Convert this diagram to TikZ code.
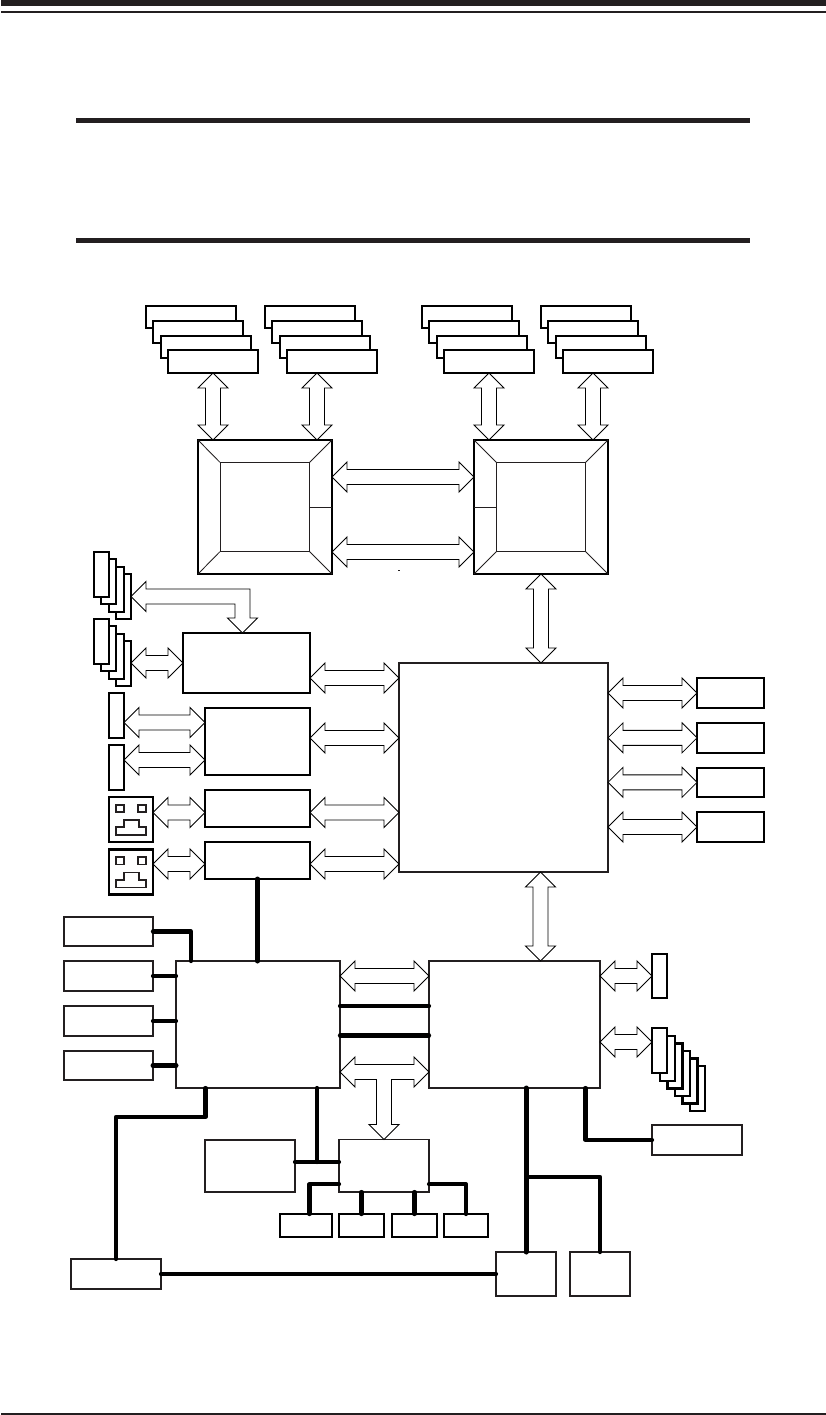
\documentclass[tikz,border=0pt]{standalone}
\usetikzlibrary{calc}
\definecolor{ink}{HTML}{231F20}
\tikzset{
  block/.style={draw=ink, fill=white, line width=1.6pt, inner sep=0pt, outer sep=0pt},
  heavyblock/.style={block, draw=black, line width=2.1pt},
  busline/.style={draw=black, fill=white, line width=0.85pt, line join=miter},
  wire/.style={draw=black, line width=4.2pt, line cap=round, line join=round},
  fineline/.style={draw=ink, line width=0.85pt},
  portline/.style={draw=ink, line width=1.8pt}
}
\newcommand{\blockat}[6][block]{\node[#1, minimum width={((#5)-(#3))*1pt}, minimum height={((#6)-(#4))*1pt}] (#2) at ({((#3)+(#5))/2},{((#4)+(#6))/2}) {};}
\newcommand{\busfill}{\draw[busline] (pa) -- ($(pa)!21.21pt!45:(pb)$) -- ($(pa)!16.77pt!26.57:(pb)$) -- ($(pb)!16.77pt!-26.57:(pa)$) -- ($(pb)!21.21pt!-45:(pa)$) -- (pb) -- ($(pb)!21.21pt!45:(pa)$) -- ($(pb)!16.77pt!26.57:(pa)$) -- ($(pa)!16.77pt!-26.57:(pb)$) -- ($(pa)!21.21pt!-45:(pb)$) -- cycle;}
\newcommand{\hbus}[2]{\coordinate (pa) at (#1); \coordinate (pb) at (pa -| #2); \busfill}
\newcommand{\vbus}[2]{\coordinate (pa) at (#1); \coordinate (pb) at (pa |- #2); \busfill}
\newcommand{\memstack}[2]{\foreach \i/\dx/\ya/\yb in {1/0/306/328,2/7/321/343,3/15/336/358,4/22/350/373} {\blockat[heavyblock]{#1\i}{#2+\dx}{\ya}{#2+\dx+90}{\yb}}}
\newcommand{\slotstack}[4]{\foreach \i/\d in {#4} {\blockat[heavyblock]{#1\i}{#2+\d}{#3+\d}{#2+\d+15}{#3+\d+45}}}
\begin{document}
\begin{tikzpicture}[x=1pt,y=-1pt]
\useasboundingbox (0,0) rectangle (826,1415);
\fill[ink] (1,0) rectangle (826,6);
\fill[ink] (1,10.7) rectangle (826,13);
\fill[ink] (76,117.7) rectangle (750,123);
\fill[ink] (76,237.7) rectangle (750,243);
\fill[ink] (1,1413) rectangle (826,1415);

\memstack{memA}{146}
\memstack{memB}{265}
\memstack{memC}{422}
\memstack{memD}{541}

\blockat[heavyblock]{cpuA}{198}{440}{332}{574}
\blockat[fineline]{cpuAin}{220.3}{462.7}{309.3}{551.3}
\blockat[heavyblock]{cpuB}{474}{440}{608}{574}
\blockat[fineline]{cpuBin}{496.7}{462.7}{585.3}{551.3}
\foreach \c in {cpuA,cpuB} {
  \foreach \a in {north west,north east,south west,south east}
    \draw[fineline] (\c.\a) -- (\c in.\a);
}
\draw[fineline] (cpuAin.east) -- (cpuA.east);
\draw[fineline] (cpuBin.west) -- (cpuB.west);

\blockat{mch}{399}{663}{608}{872}
\blockat[heavyblock]{memE}{697}{678}{764}{708}
\blockat[heavyblock]{memF}{697}{723}{764}{752.7}
\blockat[heavyblock]{memG}{697}{767.7}{764}{797}
\blockat[heavyblock]{memH}{697}{812}{764}{842}

\slotstack{slotA}{94}{552}{4/22,3/15,2/7,1/0}
\slotstack{slotB}{94}{619}{4/22,3/15,2/7,1/0}
\blockat[heavyblock]{slimA}{109}{693}{124}{738}
\blockat[heavyblock]{slimB}{109}{745}{124}{790}
\blockat[heavyblock]{portA}{109}{797}{153}{842}
\blockat[heavyblock]{portB}{109}{849.5}{153}{894.5}
\foreach \p in {portA,portB} {
  \begin{scope}[shift={(\p.north west)}]
    \draw[portline] (6.7,7.7) rectangle (15.3,15);
    \draw[portline] (29.3,7.7) rectangle (37,15);
    \draw[portline] (6.7,38) -- (6.7,30.3) -- (14.7,30.3) -- (14.7,23) -- (30,23) -- (30,30.3) -- (37,30.3) -- (37,38) -- cycle;
  \end{scope}
}

\blockat[heavyblock]{ioA}{183}{633}{310}{693}
\blockat[heavyblock]{ioB}{205}{708}{310}{775}
\blockat[heavyblock]{ioC}{205}{790}{310}{827}
\blockat[heavyblock]{ioD}{205}{842}{310}{879}

\blockat{ich}{176}{961}{340}{1088}
\blockat{sb}{429}{961}{600}{1088}
\blockat{lanA}{64}{917}{153}{946}
\blockat{lanB}{64}{961}{153}{991}
\blockat{lanC}{64}{1006}{153}{1036}
\blockat{lanD}{64}{1051}{153}{1080}
\blockat{boxF}{205}{1140}{295}{1192}
\blockat{boxE}{339}{1139.5}{429}{1192}
\blockat[heavyblock]{smA}{280}{1214}{332}{1237}
\blockat[heavyblock]{smB}{339}{1214}{384}{1237}
\blockat[heavyblock]{smC}{392}{1214}{437}{1237}
\blockat[heavyblock]{smD}{444}{1214}{488}{1237}
\blockat{boxG}{71}{1259}{161}{1289}
\blockat{bayA}{496}{1252}{556}{1296}
\blockat{bayB}{570}{1252}{630}{1296}
\blockat[heavyblock]{slimC}{652}{954}{667}{998}
\slotstack{slotC}{652}{1028}{6/38,5/30.5,4/23,3/15.5,2/8,1/0}
\blockat{boxH}{652}{1125}{742}{1155}

\vbus{memA4.south}{cpuA.north}
\vbus{[xshift=-15pt]memB4.south}{cpuA.north}
\vbus{memC4.south}{cpuB.north}
\vbus{[xshift=-15pt]memD4.south}{cpuB.north}
\hbus{[yshift=30pt]cpuA.east}{cpuB.west}
\hbus{[yshift=-45pt]cpuA.east}{cpuB.west}
\vbus{cpuB.south}{mch.north}
\hbus{memE.west}{mch.east}
\hbus{memF.west}{mch.east}
\hbus{memG.west}{mch.east}
\hbus{memH.west}{mch.east}
\hbus{ioA.west}{slotB4.east}
\hbus{[yshift=-15pt]ioA.east}{mch.west}
\hbus{[yshift=3.5pt]ioB.east}{mch.west}
\hbus{[yshift=-4pt]ioC.east}{mch.west}
\hbus{[yshift=-3.5pt]ioD.east}{mch.west}
\hbus{[yshift=19pt]ioB.west}{slimA.east}
\hbus{[yshift=-18.5pt]ioB.west}{slimB.east}
\hbus{[yshift=-4pt]ioC.west}{portA.east}
\hbus{[yshift=-3.5pt]ioD.west}{portB.east}
\vbus{[xshift=37pt]mch.south}{sb.north}
\hbus{[yshift=48.5pt]ich.east}{sb.west}
\hbus{[yshift=48.5pt]sb.east}{slimC.west}
\hbus{[yshift=-17.5pt]sb.east}{slotC1.west}

\coordinate (busTip) at ([xshift=-4pt]ioA.north);
\draw[busline] (slotA4.east) -- ++(15,-15) -- ++(0,7.5) -| ([shift={(7.5pt,15pt)}]busTip) -- ++(7.5,0) -- (busTip) -- ++(-15,-15) -- ++(7.5,0) |- ([shift={(15pt,-7.5pt)}]slotA4.east) -- ++(0,7.5) -- cycle;
\coordinate (pa) at ([yshift=-47.5pt]ich.east);
\coordinate (pb) at (pa -| sb.west);
\draw[busline] (pa) -- ++(15,-15) -- ++(0,7.5) -- ([shift={(-15pt,7.5pt)}]pb) -- ++(0,-7.5) -- (pb) -- ++(-15,15) -- ++(0,-7.5) -| ([shift={(7.5pt,15pt)}]boxE.north) -- ++(7.5,0) -- (boxE.north) -- ++(-15,-15) -- ++(7.5,0) |- ([shift={(15pt,-7.5pt)}]pa) -- ++(0,7.5) -- cycle;
\fill[ink] (398,570) rectangle (400,571);

\draw[wire, line width=5pt] (ioD.south) -- (ioD.south |- ich.north);
\draw[wire] (lanA.east) -| ([xshift=15pt]ich.north west);
\draw[wire] (lanB.east) -- (lanB.east -| ich.west);
\draw[wire] (lanC.east) -- (lanC.east -| ich.west);
\draw[wire, line width=5pt] (lanD.east) -- (lanD.east -| ich.west);
\draw[wire] ([yshift=18.5pt]sb.west) -- ([yshift=18.5pt]ich.east);
\draw[wire] ([yshift=-11pt]sb.west) -- ([yshift=-11pt]ich.east);
\draw[wire] ([xshift=29.5pt]ich.south west) -- ++(0,29) -| (boxG.north);
\coordinate (ichPort) at ([xshift=141pt]ich.south west);
\coordinate (boxPort) at ([yshift=4pt]boxF.east);
\draw[wire] (ichPort) -- (ichPort |- boxPort);
\draw[wire] (boxPort) -- (boxPort -| boxE.west);
\draw[wire] ([yshift=-18.5pt]boxE.west) -| ([xshift=3.5pt]smA.north);
\draw[wire] (smB.north) -- (smB.north |- boxE.south);
\draw[wire] (smC.north) -- (smC.north |- boxE.south);
\draw[wire] ([yshift=-18.5pt]boxE.east) -| (smD.north);
\draw[wire, line width=5pt] (bayA.north) -- (bayA.north |- sb.south);
\draw[wire] (bayB.north) -- ++(0,-75) -| (bayA.north);
\draw[wire] ([xshift=71pt]sb.south) |- (boxH.west);
\draw[wire] (boxG.east) -- (bayA.west);
\end{tikzpicture}
\end{document}
